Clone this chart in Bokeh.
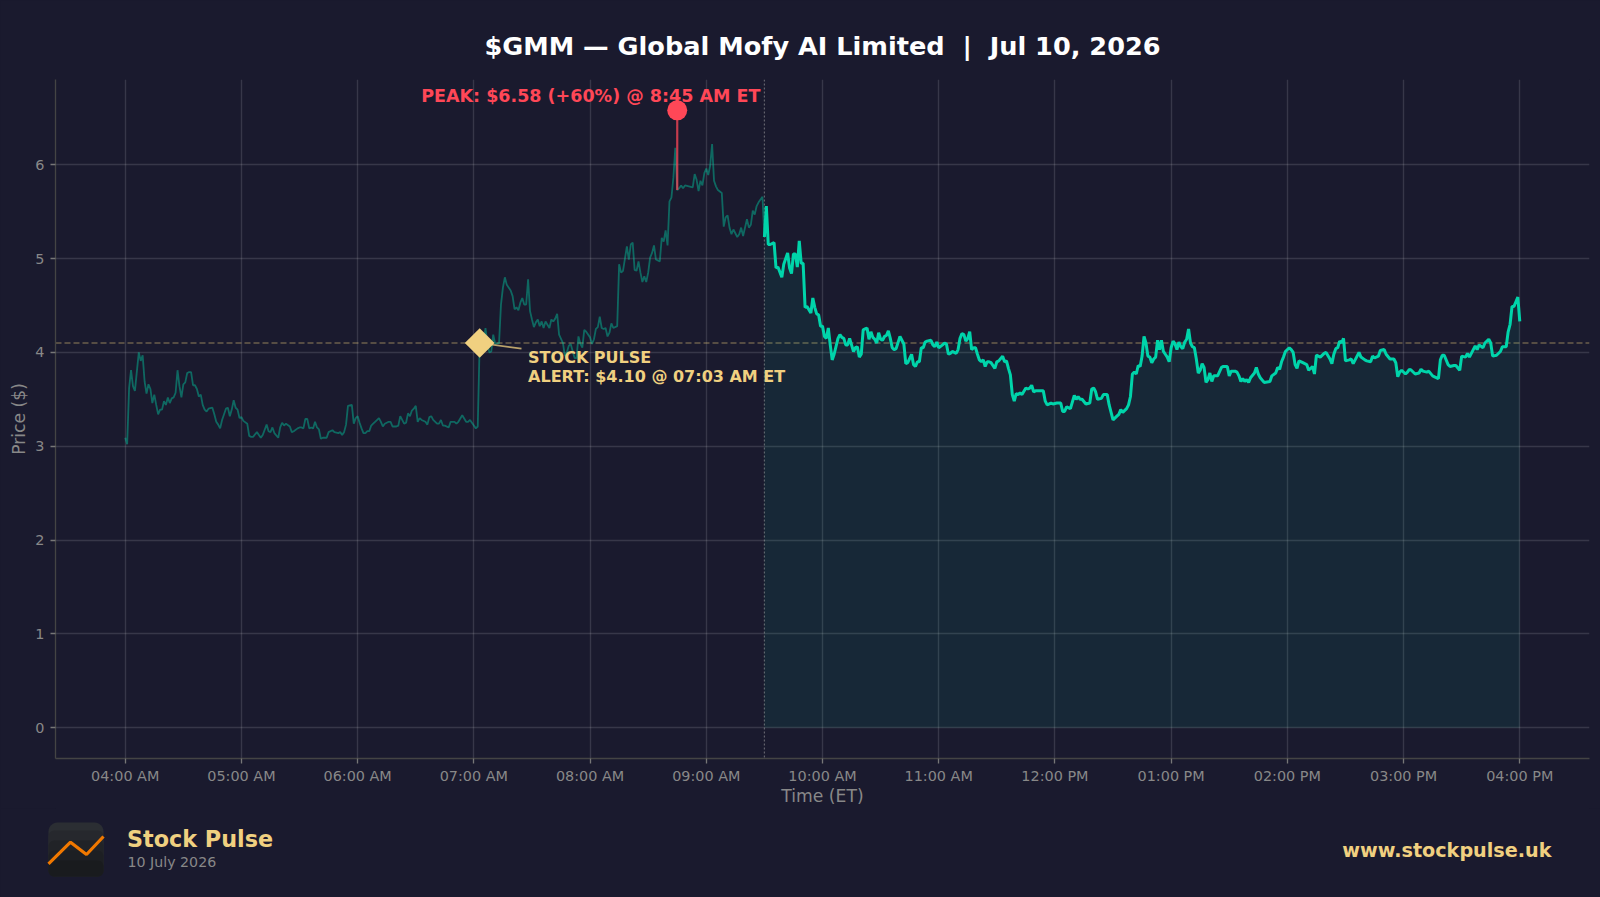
import math
from bokeh.plotting import figure
from bokeh.layouts import column
from bokeh.core.properties import value
from bokeh.models import (Range1d, FixedTicker, Label, Span)
from bokeh.embed import file_html
from bokeh.resources import INLINE

BG = "#1a1a2e"
TEAL = "#00d4aa"
GOLD = "#f0d080"
RED = "#ff4757"
GREY = "#888888"
FONT = "DejaVu Sans"

# minutes after 04:00 AM, price in $
pre_min = [0,1,2,3,4,5,7,8,9,10,11,12,13,14,15,16,17,18,19,20,21,22,23,24,25,26,27,28,29,30,31,32,33,34,35,36,37,38,39,40,41,42,43,45,46,47,48,49,50,52,53,54,55,56,57,58,59,60,61,63,64,65,66,68,69,70,71,73,74,75,76,77,79,80,81,82,83,85,86,87,89,90,91,92,93,94,95,96,97,98,99,100,101,102,104,105,107,108,110,111,112,113,114,115,117,118,119,120,121,122,123,124,125,126,127,128,129,131,132,133,134,136,137,138,140,141,142,143,144,145,146,147,148,149,150,151,152,153,155,156,157,158,159,161,162,163,164,165,167,168,170,171,172,174,176,177,178,180,181,182,183,185,186,187,188,189,190,191,193,194,195,196,197,199,200,201,202,203,204,205,206,207,208,209,210,211,212,213,214,215,216,217,219,220,221,222,223,224,226,227,228,229,230,232,233,234,235,236,237,238,240,241,242,243,244,245,246,247,248,249,250,251,252,254,255,256,257,259,260,261,262,263,264,265,266,267,268,269,270,271,272,273,274,276,277,278,279,280,281,282,283,284,285,286,287,288,289,291,293,294,295,296,297,298,299,300,301,302,303,304,305,306,308,309,310,311,312,313,314,316,317,318,319,321,322,323,324,325,326,327,329,330]
pre_price = [3.09,3.02,3.62,3.81,3.64,3.59,4.00,3.91,3.97,3.69,3.56,3.66,3.61,3.46,3.55,3.44,3.34,3.39,3.39,3.48,3.44,3.52,3.46,3.51,3.52,3.57,3.81,3.64,3.52,3.66,3.68,3.78,3.79,3.79,3.65,3.65,3.61,3.53,3.55,3.44,3.39,3.37,3.40,3.41,3.34,3.26,3.23,3.19,3.28,3.40,3.41,3.32,3.39,3.49,3.41,3.39,3.30,3.31,3.27,3.24,3.11,3.10,3.10,3.15,3.12,3.09,3.12,3.23,3.16,3.15,3.20,3.14,3.09,3.20,3.25,3.22,3.24,3.21,3.15,3.16,3.19,3.20,3.20,3.19,3.29,3.29,3.19,3.20,3.19,3.26,3.20,3.18,3.08,3.09,3.09,3.15,3.17,3.15,3.14,3.15,3.12,3.15,3.23,3.43,3.44,3.24,3.30,3.32,3.25,3.19,3.14,3.14,3.16,3.16,3.22,3.24,3.26,3.30,3.26,3.21,3.24,3.26,3.26,3.21,3.21,3.22,3.32,3.28,3.24,3.25,3.35,3.32,3.38,3.40,3.43,3.26,3.30,3.28,3.26,3.23,3.31,3.32,3.28,3.24,3.24,3.28,3.22,3.22,3.20,3.26,3.26,3.24,3.26,3.33,3.26,3.26,3.28,3.22,3.19,3.21,4.10,4.09,4.26,4.09,4.00,4.01,4.19,4.09,4.10,4.51,4.69,4.80,4.72,4.66,4.60,4.46,4.48,4.45,4.53,4.58,4.51,4.51,4.78,4.44,4.35,4.27,4.32,4.35,4.28,4.33,4.26,4.33,4.26,4.35,4.33,4.36,4.41,4.19,4.10,3.96,4.00,4.07,4.09,3.94,3.94,4.17,4.09,4.05,4.24,4.22,4.16,4.09,4.14,4.25,4.27,4.38,4.26,4.25,4.26,4.17,4.21,4.31,4.26,4.28,4.94,4.85,4.87,5.13,4.99,5.15,5.17,4.88,4.87,4.97,4.85,4.75,4.81,4.75,4.85,5.01,5.06,5.14,4.99,4.97,5.22,5.18,5.30,5.14,5.61,5.65,5.86,6.18,5.73,5.75,5.78,5.75,5.78,5.77,5.76,5.90,5.84,5.72,5.83,5.78,5.91,5.96,5.89,5.99,6.22,5.83,5.77,5.73,5.70,5.34,5.44,5.46,5.33,5.26,5.31,5.23,5.26,5.33,5.24,5.42,5.33,5.36,5.51,5.47,5.56,5.60,5.66,5.23]

mkt_min = [330,331,332,333,335,336,337,339,340,342,343,344,345,346,347,348,349,350,351,352,354,355,356,357,358,359,360,361,362,363,364,365,366,368,369,370,371,372,373,374,375,376,377,378,379,380,381,382,383,384,385,386,387,388,389,390,391,392,393,394,395,396,397,398,400,401,402,403,404,406,407,408,409,410,411,412,413,414,416,417,418,419,420,422,423,424,425,426,427,429,430,431,432,433,434,435,436,437,438,439,440,441,442,443,444,445,446,447,449,450,451,453,454,455,456,457,458,459,460,461,462,463,465,466,467,468,469,470,473,474,475,476,478,479,481,483,484,485,486,488,490,491,492,493,494,496,498,499,500,501,502,504,505,506,507,508,510,512,513,514,515,517,518,519,520,521,522,523,524,525,526,527,528,529,530,531,532,533,534,535,536,537,538,539,540,541,542,543,544,545,546,547,548,549,550,551,552,553,554,555,556,557,558,559,560,561,562,563,564,566,567,569,570,571,573,574,575,576,577,578,579,580,581,583,584,585,586,588,591,592,594,595,596,597,598,599,601,602,603,604,605,606,608,610,611,613,614,615,617,619,620,622,623,624,625,626,627,628,629,630,632,633,634,635,637,638,640,641,643,644,645,647,648,650,651,653,655,656,657,658,659,661,662,663,664,666,668,669,670,672,673,675,676,678,679,680,681,683,684,686,687,689,690,692,693,694,695,697,698,699,701,702,704,705,706,708,710,711,713,714,715,716,717,718,719,720]
mkt_price = [5.23,5.56,5.15,5.15,5.17,4.90,4.91,4.80,4.94,5.06,4.90,4.84,5.05,5.05,4.91,5.19,4.95,4.95,4.48,4.49,4.42,4.58,4.48,4.41,4.40,4.28,4.28,4.17,4.15,4.26,4.08,3.92,3.98,4.15,4.19,4.16,4.15,4.08,4.08,4.15,4.08,4.01,4.05,4.06,3.95,3.98,4.24,4.25,4.26,4.14,4.22,4.16,4.14,4.10,4.21,4.14,4.13,4.17,4.18,4.23,4.15,4.05,4.03,4.04,4.17,4.13,4.09,3.88,3.89,3.98,3.87,3.85,3.90,3.90,4.05,4.05,4.11,4.12,4.13,4.08,4.06,4.11,4.05,4.08,4.10,4.09,3.98,3.99,4.01,3.99,4.03,4.15,4.20,4.19,4.12,4.15,4.22,4.03,4.05,4.05,3.98,3.92,3.90,3.92,3.85,3.90,3.90,3.89,3.83,3.90,3.91,3.96,3.90,3.91,3.83,3.76,3.55,3.48,3.56,3.55,3.57,3.55,3.62,3.61,3.62,3.65,3.58,3.59,3.59,3.59,3.48,3.44,3.46,3.45,3.46,3.46,3.37,3.37,3.42,3.40,3.54,3.50,3.53,3.50,3.50,3.45,3.46,3.61,3.62,3.58,3.50,3.51,3.55,3.55,3.55,3.44,3.28,3.32,3.34,3.39,3.36,3.40,3.44,3.53,3.77,3.79,3.77,3.86,3.85,3.96,4.17,4.10,3.96,3.95,3.89,3.93,3.95,4.13,4.03,4.13,4.01,3.98,3.95,3.90,4.05,4.12,4.09,4.03,4.11,4.06,4.04,4.11,4.14,4.25,4.10,4.06,4.05,3.93,3.78,3.81,3.88,3.84,3.68,3.71,3.78,3.69,3.75,3.75,3.75,3.84,3.85,3.85,3.75,3.80,3.80,3.79,3.75,3.69,3.72,3.69,3.71,3.68,3.73,3.78,3.84,3.77,3.73,3.68,3.69,3.75,3.78,3.84,3.82,3.90,3.95,4.01,4.05,4.03,4.00,3.87,3.83,3.91,3.89,3.87,3.81,3.85,3.77,3.97,3.95,3.99,4.00,3.93,3.88,3.98,4.04,4.05,4.12,4.10,4.15,3.91,3.92,3.93,3.88,3.92,4.00,3.95,3.92,3.91,3.90,3.96,3.94,3.96,4.02,4.03,3.98,3.93,3.93,3.89,3.74,3.79,3.81,3.77,3.79,3.82,3.81,3.77,3.78,3.82,3.80,3.79,3.80,3.75,3.74,3.72,3.92,3.97,3.97,3.87,3.85,3.86,3.86,3.81,3.96,3.95,3.99,3.95,3.99,4.07,4.03,4.08,4.05,4.10,4.14,4.10,3.96,3.97,4.01,4.06,4.06,4.22,4.30,4.49,4.49,4.54,4.59,4.33]

hour_ticks = [0,60,120,180,240,300,360,420,480,540,600,660,720]
hour_labels = ["04:00 AM","05:00 AM","06:00 AM","07:00 AM","08:00 AM","09:00 AM","10:00 AM","11:00 AM","12:00 PM","01:00 PM","02:00 PM","03:00 PM","04:00 PM"]
price_ticks = [0,1,2,3,4,5,6]

peak_min, peak_price, peak_base = 285, 6.58, 5.73
alert_min, alert_price = 183, 4.10
open_min = 330

p = figure(width=1600, height=808, output_backend="svg", toolbar_location=None,
           x_range=Range1d(-36, 756), y_range=Range1d(-0.329, 6.909),
           background_fill_color=BG, border_fill_color=BG, outline_line_color=None,
           min_border_left=55, min_border_right=11, min_border_top=79, min_border_bottom=50,
           x_axis_label="Time (ET)", y_axis_label="Price ($)",
           title="$GMM \u2014 Global Mofy AI Limited \u00a0|\u00a0 Jul 10, 2026")

p.title.align = "center"
p.title.text_font = FONT
p.title.text_font_size = "25.6px"
p.title.text_font_style = "bold"
p.title.text_color = "#ffffff"
p.title.standoff = 38

for ax in (p.xaxis[0], p.yaxis[0]):
    ax.major_label_text_font = FONT
    ax.major_label_text_font_size = "14.4px"
    ax.major_label_text_color = GREY
    ax.axis_label_text_font = FONT
    ax.axis_label_text_font_size = "17.2px"
    ax.axis_label_text_font_style = "normal"
    ax.axis_label_text_color = GREY
    ax.axis_line_color = "#444444"
    ax.axis_line_width = 1.3
    ax.major_tick_line_color = "#777777"
    ax.major_tick_line_width = 1.3
    ax.major_tick_in = 0
    ax.major_tick_out = 5
    ax.minor_tick_line_color = None

p.xaxis[0].ticker = FixedTicker(ticks=hour_ticks)
p.xaxis[0].major_label_overrides = dict(zip(hour_ticks, hour_labels))
p.yaxis[0].ticker = FixedTicker(ticks=price_ticks)
p.xaxis[0].major_label_standoff = 4
p.yaxis[0].major_label_standoff = 6
p.xaxis[0].axis_label_standoff = -1
p.yaxis[0].axis_label_standoff = 3

p.xgrid[0].ticker = FixedTicker(ticks=hour_ticks)
p.ygrid[0].ticker = FixedTicker(ticks=price_ticks)
for g in (p.xgrid[0], p.ygrid[0]):
    g.grid_line_color = "#ffffff"
    g.grid_line_alpha = 0.13
    g.grid_line_width = 1.4

p.add_layout(Span(location=alert_price, dimension="width", line_color=GOLD, line_alpha=0.38,
                  line_width=1.3, line_dash="6 3", level="underlay"))
p.add_layout(Span(location=open_min, dimension="height", line_color="#aaaaaa", line_alpha=0.5,
                  line_width=1.2, line_dash="2 2", level="underlay"))

p.varea(x=mkt_min, y1=[0]*len(mkt_min), y2=mkt_price, fill_color=TEAL, fill_alpha=0.08)
p.line(pre_min, pre_price, line_color=TEAL, line_alpha=0.42, line_width=1.8)
p.line(mkt_min, mkt_price, line_color=TEAL, line_width=3)

p.segment([peak_min], [peak_base], [peak_min], [peak_price], line_color=RED, line_alpha=0.75, line_width=2.2)
p.scatter([peak_min], [peak_price], marker="circle", size=20, fill_color=RED, line_color=None)

p.segment([alert_min], [alert_price], [204.6], [4.04], line_color=GOLD, line_alpha=0.75, line_width=1.6)
p.scatter([alert_min], [alert_price], marker="square", angle=0.7854, size=21, fill_color=GOLD, line_color=None)

def data_label(x, y, text, color, size):
    p.add_layout(Label(x=x, y=y, text=text, text_color=color, text_font=FONT,
                       text_font_size=size, text_font_style="bold",
                       text_align="left", text_baseline="middle"))

data_label(152.8, 6.736, "PEAK: $6.58 (+60%) @ 8:45 AM ET", RED, "17.5px")
data_label(208, 3.95, "STOCK PULSE", GOLD, "16px")
data_label(208, 3.745, "ALERT: $4.10 @ 07:03 AM ET", GOLD, "16px")

# footer strip: its data ranges are page pixels; its frame lines up with the main frame
f = figure(width=1600, height=89, output_backend="svg", toolbar_location=None,
           x_range=Range1d(55, 1589), y_range=Range1d(897, 808),
           background_fill_color=BG, border_fill_color=BG, outline_line_color=None,
           min_border_left=0, min_border_right=0, min_border_top=0, min_border_bottom=0,
           x_axis_location=None, y_axis_location=None)
f.grid.visible = False

def foot_text(x, y, text, color, size, style="normal", align="left"):
    f.text([x], [y], text=[text], text_color=color, text_font=value(FONT),
           text_font_size=value(size), text_font_style=style,
           text_align=align, text_baseline="middle")

def logo_tile(top, color, radius=9):
    left, right, bottom = 48, 103, 876
    corners = [(right - radius, top + radius, -90), (right - radius, bottom - radius, 0),
               (left + radius, bottom - radius, 90), (left + radius, top + radius, 180)]
    xs, ys = [], []
    for cx, cy, start in corners:
        for step in range(7):
            a = math.radians(start + step * 15)
            xs.append(cx + radius * math.cos(a))
            ys.append(cy + radius * math.sin(a))
    f.patch(xs, ys, fill_color=color, line_color=None, level="overlay")

logo_tile(822, "#2b2e33")
logo_tile(830, "#26282d", 6)
logo_tile(840, "#212327", 6)
logo_tile(850, "#1d1f23", 6)
logo_tile(860, "#191b1e", 6)

f.line([48, 70, 86, 103], [863.3, 841.7, 854, 836], line_color="#f07800", line_width=3.2, level="overlay")

foot_text(126.5, 838, "Stock Pulse", GOLD, "22.3px", "bold")
foot_text(127, 861.5, "10 July 2026", GREY, "14.2px")
foot_text(1551, 850, "www.stockpulse.uk", GOLD, "19.2px", "bold", "right")

html = file_html(column(p, f, spacing=0), INLINE)
html = html.replace("</head>", "<style>html,body{margin:0;padding:0;background:%s;overflow:hidden}</style></head>" % BG, 1)
open("out.html", "w").write(html)
